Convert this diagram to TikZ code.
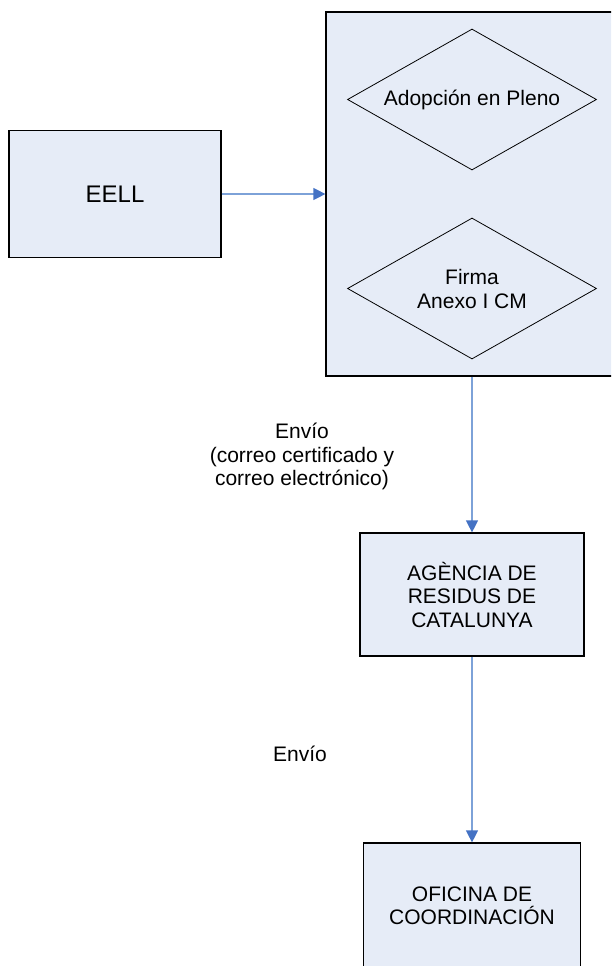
\documentclass[tikz,border=0pt]{standalone}
\usepackage{fontspec}
\setmainfont{Liberation Sans}
\usetikzlibrary{shapes.geometric,arrows.meta}

\definecolor{cajafondo}{RGB}{230,236,247}
\definecolor{flechalinea}{RGB}{125,162,216}
\definecolor{flechapunta}{RGB}{68,114,196}

\begin{document}
\begin{tikzpicture}[x=1pt, y=-1pt,
		caja/.style={draw, fill=cajafondo, line width=1.2pt, inner sep=0pt, align=center,
			font=\fontsize{21}{23.5}\selectfont},
		rombo/.style={draw, diamond, shape aspect=1.77, line width=0.8pt, inner sep=0pt,
			minimum width=249pt, minimum height=141pt, align=center,
			font=\fontsize{21}{24}\selectfont},
		flujo/.style={draw=flechalinea, line width=1.2pt,
			-{Triangle[width=12pt, length=12pt, color=flechapunta]}},
		etiqueta/.style={align=center, inner sep=0pt, font=\fontsize{21}{23.5}\selectfont}]
	
	\useasboundingbox (0,0) rectangle (611,966);
	\clip (0,0) rectangle (611,966);
	
	%Cajas del diagrama
	\node[caja, minimum width=212pt, minimum height=127pt, font=\fontsize{24}{28}\selectfont] (eell) at (115,194) {EELL};
	\node[caja, minimum width=292pt, minimum height=364pt] (pleno) at (472,194) {};
	\node[caja, minimum width=224pt, minimum height=123pt] (agencia) at (472,594.5) {AGÈNCIA DE\\RESIDUS DE\\CATALUNYA};
	\node[caja, minimum width=217pt, minimum height=126pt] (oficina) at (472,906) {OFICINA DE\\COORDINACIÓN};
	
	% Rombos dentro de la caja
	\node[rombo] (adopcion) at (472,99.5) {Adopción en Pleno};
	\node[rombo] (firma) at (472,288.5) {Firma\\Anexo I CM};
	
	% Flechas
	\draw[flujo] (eell) -- (pleno);
	\draw[flujo] (pleno) -- (agencia)
		node[etiqueta, midway, xshift=-170pt, yshift=-2pt] (envio1) {Envío\\(correo certificado y\\correo electrónico)};
	\draw[flujo] (agencia) -- (oficina)
		node[etiqueta, midway, xshift=-172pt, yshift=-4pt] (envio2) {Envío};
	
\end{tikzpicture}
\end{document}
